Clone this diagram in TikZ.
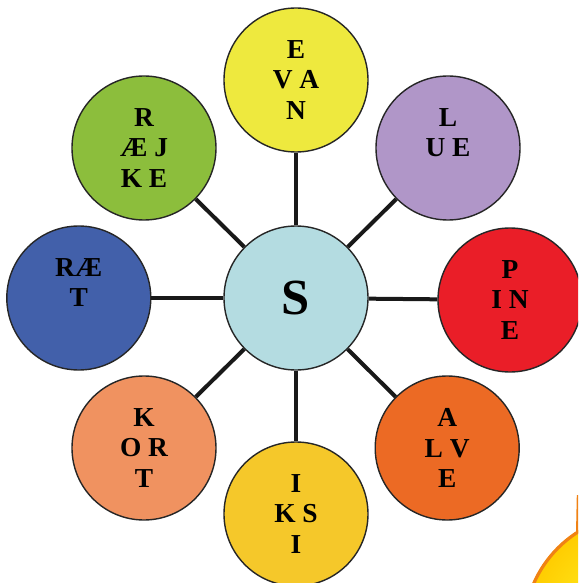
\documentclass[tikz,border=0pt]{standalone}
\usepackage{fontspec}
\setmainfont{Liberation Serif}
\usetikzlibrary{calc}
\definecolor{ballyellow}{RGB}{238,233,62}
\definecolor{ballgreen}{RGB}{140,190,60}
\definecolor{balllilac}{RGB}{176,150,200}
\definecolor{ballblue}{RGB}{66,96,170}
\definecolor{ballred}{RGB}{234,30,40}
\definecolor{ballorange}{RGB}{236,106,36}
\definecolor{ballgold}{RGB}{245,200,42}
\definecolor{ballsalmon}{RGB}{240,146,96}
\definecolor{hubblue}{RGB}{180,220,225}
\definecolor{sunedge}{RGB}{240,130,20}
\tikzset{
	ball/.style={circle, draw=black!85, line width=0.35mm, minimum size=3.6cm, inner sep=0pt,
		align=center, font=\fontsize{19.5}{22}\selectfont\bfseries},
	hub/.style={ball, fill=hubblue, font=\fontsize{36}{40}\selectfont\bfseries},
	spoke/.style={line width=1mm, color=black!90}
}

\begin{document}
\begin{tikzpicture}
			%%%%% START %%%%%
			
			\clip (-7.4, -7.125) rectangle (7.05, 7.45);
			
			% sun in the corner
			\shade[inner color=yellow!80!white, outer color=yellow!60!orange] (8.6, -8.3) circle (2.93);
			\draw[line width=0.8mm, color=sunedge] (8.6, -8.3) circle (2.9);
			\fill[color=sunedge] (7.0, -5.875) -- (7.02, -4.925) -- (7.05, -4.925) -- (7.05, -5.875) -- cycle;
			
			\node[hub] (s) at (0, 0) {S};
			
			\node[ball, fill=ballyellow] (evan) at (0, 5.45) {E\\V A\\N};
			\node[ball, fill=balllilac] (lue) at (3.8, 3.75) {L\\U E\\\mbox{}};
			\node[ball, fill=ballred] (pine) at (5.35, -0.05) {P\\I N\\E};
			\node[ball, fill=ballorange] (alve) at (3.78, -3.75) {A\\L V\\E};
			\node[ball, fill=ballgold] (iksi) at (0, -5.4) {I\\K S\\I};
			\node[ball, fill=ballsalmon] (kort) at (-3.8, -3.75) {K\\O R\\T};
			\node[ball, fill=ballblue] (raet) at (-5.43, 0) {RÆ\\T\\\mbox{}};
			\node[ball, fill=ballgreen] (raejke) at (-3.8, 3.75) {R\\Æ J\\K E};
			
			\draw[spoke] (s) -- (evan);
			\draw[spoke] (s) -- (lue);
			\draw[spoke] (s) -- (pine);
			\draw[spoke] (s) -- (alve);
			\draw[spoke] (s) -- (iksi);
			\draw[spoke] (s) -- (kort);
			\draw[spoke] (s) -- (raet);
			\draw[spoke] (s) -- (raejke);
			
			%%%%% END %%%%%
		\end{tikzpicture}
\end{document}
